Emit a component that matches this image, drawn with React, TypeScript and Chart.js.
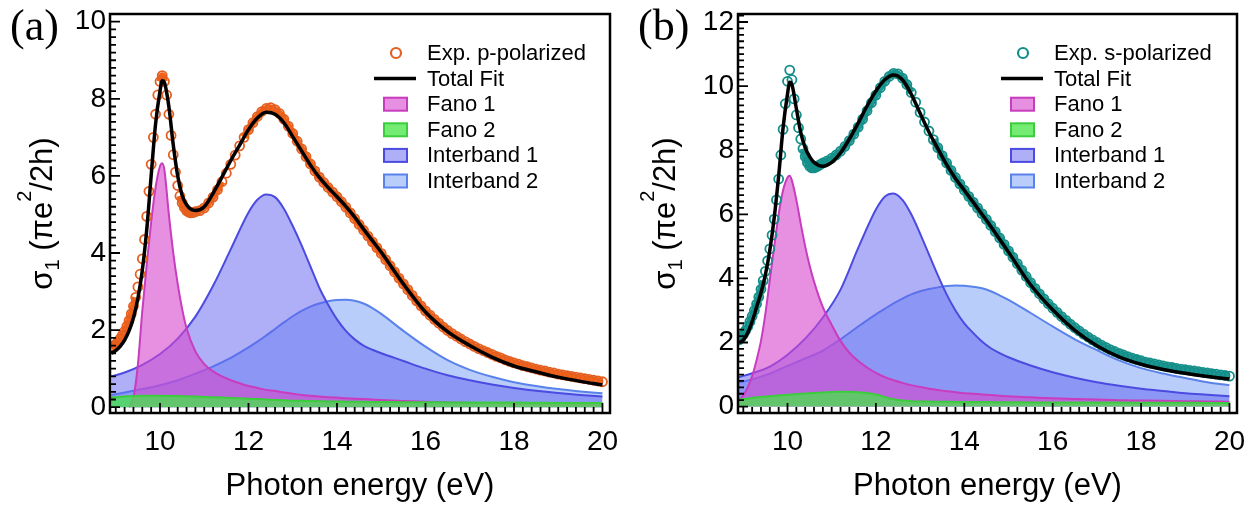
import React, { useEffect, useRef } from "react";
import { Chart, registerables } from "chart.js";
Chart.register(...registerables);

const SANS = "'Liberation Sans', Arial, Helvetica, sans-serif";
const SERIF = "'Liberation Serif', 'Times New Roman', serif";

// ---------- tick labels ----------
const xTickValues = [10, 12, 14, 16, 18, 20];
const yTickValuesA = [0, 2, 4, 6, 8, 10];
const yTickValuesB = [0, 2, 4, 6, 8, 10, 12];

// ---------- legend labels ----------
const legendLabelsA = ["Exp. p-polarized", "Total Fit", "Fano 1", "Fano 2", "Interband 1", "Interband 2"];
const legendLabelsB = ["Exp. s-polarized", "Total Fit", "Fano 1", "Fano 2", "Interband 1", "Interband 2"];

// ---------- experimental photon energies (eV) ----------
const expEnergy = [
  8.9, 8.95, 9.0, 9.05, 9.1, 9.15, 9.2, 9.25, 9.3, 9.35,
  9.4, 9.45, 9.5, 9.55, 9.6, 9.65, 9.7, 9.75, 9.8, 9.85,
  9.9, 9.95, 10.0, 10.05, 10.1, 10.15, 10.2, 10.25, 10.3, 10.35,
  10.4, 10.45, 10.5, 10.55, 10.6, 10.65, 10.7, 10.75, 10.8,
  10.9, 11.0, 11.1, 11.2, 11.3, 11.4, 11.5, 11.6, 11.7, 11.8,
  11.9, 12.0, 12.1, 12.2, 12.3, 12.4, 12.5, 12.6, 12.7, 12.8,
  12.9, 13.0, 13.1, 13.2, 13.3, 13.4, 13.5, 13.6, 13.7, 13.8,
  13.9, 14.0, 14.1, 14.2, 14.3, 14.4, 14.5, 14.6, 14.7, 14.8,
  14.9, 15.0, 15.1, 15.2, 15.3, 15.4, 15.5, 15.6, 15.7, 15.8,
  15.9, 16.0, 16.1, 16.2, 16.3, 16.4, 16.5, 16.6, 16.7, 16.8,
  16.9, 17.0, 17.1, 17.2, 17.3, 17.4, 17.5, 17.6, 17.7, 17.8,
  17.9, 18.0, 18.1, 18.2, 18.3, 18.4, 18.5, 18.6, 18.7, 18.8,
  18.9, 19.0, 19.1, 19.2, 19.3, 19.4, 19.5, 19.6, 19.7, 19.8,
  19.9, 20.0,
];

// (a) Exp. p-polarized
const expP = [
  1.52, 1.57, 1.63, 1.70, 1.78, 1.87, 1.97, 2.10, 2.25, 2.42,
  2.62, 2.85, 3.12, 3.45, 3.85, 4.35, 4.95, 5.6, 6.3, 7.0,
  7.6, 8.1, 8.45, 8.6, 8.45, 8.1, 7.6, 7.05, 6.55, 6.1,
  5.75, 5.48, 5.3, 5.18, 5.1, 5.06, 5.04, 5.05, 5.07,
  5.1, 5.17, 5.3, 5.45, 5.64, 5.85, 6.07, 6.3, 6.54, 6.78,
  7.0, 7.2, 7.38, 7.54, 7.67, 7.75, 7.77, 7.72, 7.62, 7.47,
  7.29, 7.1, 6.9, 6.7, 6.5, 6.31, 6.13, 5.97, 5.83, 5.7,
  5.58, 5.46, 5.33, 5.19, 5.04, 4.89, 4.74, 4.59, 4.44, 4.29,
  4.14, 3.99, 3.83, 3.67, 3.51, 3.35, 3.2, 3.05, 2.9, 2.76,
  2.63, 2.5, 2.39, 2.28, 2.18, 2.08, 1.99, 1.91, 1.84, 1.77,
  1.7, 1.64, 1.58, 1.52, 1.47, 1.42, 1.37, 1.32, 1.28, 1.23,
  1.19, 1.15, 1.12, 1.08, 1.05, 1.02, 0.99, 0.96, 0.94, 0.91,
  0.89, 0.86, 0.84, 0.82, 0.8, 0.78, 0.76, 0.74, 0.72, 0.7,
  0.68, 0.66,
];

// (b) Exp. s-polarized
const expS = [
  2.08, 2.15, 2.25, 2.37, 2.5, 2.65, 2.82, 3.0, 3.2, 3.42,
  3.66, 3.93, 4.22, 4.55, 4.92, 5.35, 5.85, 6.45, 7.1, 7.85,
  8.65, 9.45, 10.15, 10.5, 10.2, 9.6, 9.1, 8.7, 8.35, 8.05,
  7.8, 7.62, 7.5, 7.45, 7.45, 7.48, 7.52, 7.56, 7.6,
  7.67, 7.75, 7.85, 7.97, 8.12, 8.3, 8.5, 8.72, 8.97, 9.23,
  9.48, 9.72, 9.95, 10.15, 10.3, 10.4, 10.38, 10.25, 10.05, 9.8,
  9.5, 9.18, 8.88, 8.6, 8.33, 8.08, 7.83, 7.6, 7.37, 7.15,
  6.95, 6.75, 6.56, 6.38, 6.2, 6.02, 5.84, 5.65, 5.46, 5.26,
  5.06, 4.86, 4.66, 4.46, 4.26, 4.06, 3.87, 3.69, 3.52, 3.36,
  3.21, 3.07, 2.94, 2.81, 2.69, 2.57, 2.46, 2.36, 2.26, 2.17,
  2.08, 2.0, 1.92, 1.85, 1.78, 1.72, 1.66, 1.61, 1.56, 1.51,
  1.47, 1.43, 1.39, 1.36, 1.33, 1.3, 1.27, 1.24, 1.22, 1.19,
  1.17, 1.15, 1.13, 1.11, 1.09, 1.07, 1.05, 1.03, 1.01, 0.99,
  0.97, 0.95,
];

// ---------- fit energies (total fit and Fano 1) ----------
const fitEnergy = [
  8.9, 9.0, 9.1, 9.2, 9.3, 9.4, 9.5, 9.6, 9.7, 9.8,
  9.9, 10.0, 10.05, 10.1, 10.2, 10.3, 10.4, 10.5, 10.6, 10.8,
  11.0, 11.2, 11.4, 11.6, 11.8, 12.0, 12.2, 12.4, 12.6, 12.8,
  13.0, 13.2, 13.4, 13.6, 13.8, 14.0, 14.2, 14.4, 14.6, 14.8,
  15.0, 15.5, 16.0, 16.5, 17.0, 17.5, 18.0, 18.5, 19.0, 19.5,
  20.0,
];

const totalFitA = [
  1.40, 1.47, 1.58, 1.74, 1.98, 2.32, 2.82, 3.55, 4.6, 6.0,
  7.35, 8.2, 8.47, 8.42, 7.8, 6.8, 6.0, 5.5, 5.25, 5.1,
  5.2, 5.55, 5.97, 6.4, 6.8, 7.2, 7.5, 7.65, 7.6, 7.38,
  7.02, 6.65, 6.28, 5.96, 5.7, 5.46, 5.21, 4.93, 4.62, 4.32,
  4.02, 3.2, 2.47, 1.96, 1.6, 1.3, 1.07, 0.92, 0.78, 0.67,
  0.58,
];

const fano1A = [
  null, null, null, null, 0.0, 0.25, 1.1, 2.5, 3.7, 4.8,
  5.7, 6.25, 6.33, 6.15, 5.0, 4.0, 3.2, 2.55, 2.05, 1.45,
  1.12, 0.93, 0.8, 0.7, 0.62, 0.55, 0.5, 0.45, 0.42, 0.38,
  0.35, 0.32, 0.3, 0.28, 0.26, 0.25, 0.23, 0.22, 0.21, 0.2,
  0.19, 0.16, 0.14, 0.12, 0.11, 0.1, 0.09, 0.08, 0.07, 0.07,
  0.06,
];

const totalFitB = [
  2.0, 2.08, 2.3, 2.65, 3.1, 3.55, 4.12, 4.88, 5.9, 7.2,
  8.7, 9.75, 10.12, 10.05, 9.3, 8.55, 8.08, 7.8, 7.62, 7.5,
  7.62, 7.92, 8.35, 8.85, 9.38, 9.85, 10.2, 10.35, 10.2, 9.75,
  9.15, 8.57, 8.05, 7.55, 7.12, 6.75, 6.38, 6.0, 5.62, 5.22,
  4.82, 3.8, 3.02, 2.38, 1.9, 1.55, 1.32, 1.16, 1.04, 0.94,
  0.86,
];

const fano1B = [
  0.2, 0.35, 0.6, 0.95, 1.45, 2.05, 2.9, 3.95, 5.0, 6.0,
  6.75, 7.15, 7.2, 7.05, 6.45, 5.7, 5.0, 4.4, 3.9, 3.1,
  2.55, 2.05, 1.68, 1.42, 1.22, 1.05, 0.92, 0.82, 0.74, 0.67,
  0.61, 0.56, 0.52, 0.48, 0.45, 0.42, 0.4, 0.38, 0.36, 0.34,
  0.32, 0.29, 0.26, 0.24, 0.22, 0.2, 0.19, 0.18, 0.17, 0.16,
  0.15,
];

// ---------- component energies (Fano 2, Interband 1, Interband 2) ----------
const compEnergy = [
  8.9, 9.2, 9.6, 10.0, 10.4, 10.8, 11.2, 11.6, 12.0, 12.2,
  12.4, 12.6, 12.8, 13.0, 13.2, 13.4, 13.6, 13.8, 14.0, 14.2,
  14.4, 14.6, 14.8, 15.0, 15.5, 16.0, 16.5, 17.0, 17.5, 18.0,
  18.5, 19.0, 19.5, 20.0,
];

const fano2A = [
  0.25, 0.28, 0.3, 0.3, 0.29, 0.28, 0.26, 0.24, 0.22, 0.21,
  0.2, 0.19, 0.18, 0.17, 0.165, 0.16, 0.155, 0.15, 0.15, 0.145,
  0.14, 0.14, 0.135, 0.135, 0.13, 0.13, 0.125, 0.12, 0.12, 0.12,
  0.115, 0.11, 0.11, 0.11,
];
const interband1A = [
  0.8, 0.9, 1.1, 1.38, 1.78, 2.35, 3.15, 4.1, 5.05, 5.38,
  5.52, 5.45, 5.15, 4.7, 4.2, 3.65, 3.1, 2.66, 2.28, 1.98,
  1.76, 1.6, 1.49, 1.4, 1.2, 1.0, 0.83, 0.7, 0.59, 0.5,
  0.43, 0.37, 0.32, 0.28,
];
const interband2A = [
  0.32, 0.38, 0.47, 0.57, 0.7, 0.87, 1.06, 1.28, 1.55, 1.7,
  1.86, 2.03, 2.2, 2.36, 2.5, 2.61, 2.69, 2.75, 2.78, 2.79,
  2.76, 2.69, 2.57, 2.42, 1.98, 1.57, 1.22, 0.97, 0.79, 0.65,
  0.55, 0.47, 0.41, 0.36,
];

const fano2B = [
  0.22, 0.27, 0.32, 0.37, 0.41, 0.44, 0.46, 0.45, 0.38, 0.3,
  0.23, 0.19, 0.17, 0.16, 0.155, 0.15, 0.15, 0.145, 0.145, 0.14,
  0.14, 0.14, 0.135, 0.135, 0.13, 0.13, 0.13, 0.125, 0.125, 0.12,
  0.12, 0.12, 0.115, 0.115,
];
const interband1B = [
  0.92, 1.04, 1.25, 1.62, 2.12, 2.78, 3.65, 4.95, 6.15, 6.55,
  6.65, 6.45, 6.0, 5.4, 4.75, 4.1, 3.5, 3.0, 2.6, 2.3,
  2.03, 1.82, 1.67, 1.54, 1.28, 1.07, 0.9, 0.76, 0.65, 0.56,
  0.49, 0.42, 0.37, 0.32,
];
const interband2B = [
  0.75, 0.85, 1.03, 1.27, 1.5, 1.75, 2.1, 2.5, 2.88, 3.05,
  3.22, 3.37, 3.5, 3.6, 3.67, 3.72, 3.76, 3.78, 3.77, 3.74,
  3.69, 3.6, 3.47, 3.33, 2.92, 2.5, 2.1, 1.76, 1.44, 1.2,
  1.03, 0.89, 0.76, 0.67,
];

// ---------- styles ----------
const COLORS = {
  fano1: { line: "rgb(200,60,190)", fill: "rgba(215,70,205,0.6)" },
  fano2: { line: "rgb(60,205,60)", fill: "rgba(70,230,70,0.75)" },
  ib1: { line: "rgb(75,75,225)", fill: "rgba(95,95,240,0.5)" },
  ib2: { line: "rgb(90,130,235)", fill: "rgba(100,145,245,0.45)" },
};

type Pt = { x: number; y: number };
const pts = (xs: number[], ys: (number | null)[]): Pt[] =>
  xs.map((x, i) => ({ x, y: ys[i] as number })).filter((p) => p.y !== null && p.y !== undefined);

type PanelCfg = {
  tag: string;
  left: number;
  xMin: number;
  xMax: number;
  yMin: number;
  yMax: number;
  yTicks: number[];
  yAxisWidth: number;
  padRight: number;
  titleOffset: number;
  labelX: number;
  expColor: string;
  expBand: string;
  legend: string[];
  exp: number[];
  total: number[];
  fano1: (number | null)[];
  fano2: number[];
  ib1: number[];
  ib2: number[];
};

function Panel({ cfg }: { cfg: PanelCfg }) {
  const ref = useRef<HTMLCanvasElement>(null);
  useEffect(() => {
    const canvas = ref.current!;
    const comp = (label: string, xs: number[], ys: (number | null)[], c: { line: string; fill: string }, order: number) => ({
      label,
      data: pts(xs, ys),
      showLine: true,
      borderColor: c.line,
      backgroundColor: c.fill,
      borderWidth: 2,
      pointRadius: 0,
      fill: "origin",
      cubicInterpolationMode: "monotone",
      order,
    });
    const datasets: any[] = [
      {
        label: cfg.legend[0],
        data: pts(expEnergy, cfg.exp),
        showLine: true,
        borderWidth: 7,
        borderColor: cfg.expBand,
        cubicInterpolationMode: "monotone",
        segment: {
          borderColor: (c: any) => {
            const d = Math.hypot(c.p1.x - c.p0.x, c.p1.y - c.p0.y);
            return d < 9.5 ? cfg.expBand : "rgba(0,0,0,0)";
          },
        },
        fill: false,
        pointStyle: "circle",
        pointRadius: 4.5,
        pointBorderWidth: 1.8,
        pointBorderColor: cfg.expColor,
        pointBackgroundColor: "rgba(255,255,255,0)",
        backgroundColor: "rgba(255,255,255,0)",
        order: 1,
      },
      {
        label: cfg.legend[1],
        data: pts(fitEnergy, cfg.total),
        showLine: true,
        borderColor: "#000",
        borderWidth: 3.5,
        pointRadius: 0,
        fill: false,
        cubicInterpolationMode: "monotone",
        order: 0,
      },
      comp(cfg.legend[2], fitEnergy, cfg.fano1, COLORS.fano1, 3),
      comp(cfg.legend[3], compEnergy, cfg.fano2, COLORS.fano2, 2),
      comp(cfg.legend[4], compEnergy, cfg.ib1, COLORS.ib1, 4),
      comp(cfg.legend[5], compEnergy, cfg.ib2, COLORS.ib2, 5),
    ];

    const decor = {
      id: "decor" + cfg.tag,
      afterDatasetsDraw(chart: any) {
        const ctx: CanvasRenderingContext2D = chart.ctx;
        const { left, right, top, bottom } = chart.chartArea;
        const xs = chart.scales.x;
        const ys = chart.scales.y;
        ctx.save();
        // inward ticks
        ctx.strokeStyle = "#000";
        ctx.lineWidth = 1.8;
        ctx.beginPath();
        for (let k = Math.ceil(cfg.xMin * 5); k <= Math.floor(cfg.xMax * 5); k++) {
          const px = xs.getPixelForValue(k / 5);
          const len = k % 10 === 0 ? 10 : 6;
          ctx.moveTo(px, bottom);
          ctx.lineTo(px, bottom - len);
        }
        for (let k = Math.ceil(cfg.yMin * 5); k <= Math.floor(cfg.yMax * 5); k++) {
          const py = ys.getPixelForValue(k / 5);
          const len = k % 10 === 0 ? 10 : 6;
          ctx.moveTo(left, py);
          ctx.lineTo(left + len, py);
        }
        ctx.stroke();
        // frame
        ctx.lineWidth = 2.5;
        ctx.strokeRect(left, top, right - left, bottom - top);

        // legend
        const tx = right - 183;
        ctx.font = `22px ${SANS}`;
        ctx.textBaseline = "middle";
        ctx.textAlign = "left";
        for (let i = 0; i < cfg.legend.length; i++) {
          const y = top + 39 + i * 25.6;
          if (i === 0) {
            ctx.beginPath();
            ctx.arc(tx - 31, y, 5, 0, Math.PI * 2);
            ctx.lineWidth = 2.2;
            ctx.strokeStyle = cfg.expColor;
            ctx.stroke();
          } else if (i === 1) {
            ctx.beginPath();
            ctx.moveTo(tx - 53, y);
            ctx.lineTo(tx - 11, y);
            ctx.lineWidth = 3.5;
            ctx.strokeStyle = "#000";
            ctx.stroke();
          } else {
            const c = [COLORS.fano1, COLORS.fano2, COLORS.ib1, COLORS.ib2][i - 2];
            ctx.fillStyle = c.fill;
            ctx.fillRect(tx - 43, y - 6.5, 23, 13);
            ctx.lineWidth = 2;
            ctx.strokeStyle = c.line;
            ctx.strokeRect(tx - 43, y - 6.5, 23, 13);
          }
          ctx.fillStyle = "#000";
          ctx.fillText(cfg.legend[i], tx, y + 1);
        }

        // x title
        ctx.textBaseline = "alphabetic";
        ctx.textAlign = "center";
        ctx.font = `31px ${SANS}`;
        ctx.fillText("Photon energy (eV)", (left + right) / 2, 495);

        // y title with sub/superscripts
        const segs = [
          { t: "σ", s: 31, dy: 0 },
          { t: "1", s: 20, dy: 7 },
          { t: " (πe", s: 31, dy: 0 },
          { t: "2", s: 20, dy: -21 },
          { t: "/2h)", s: 31, dy: 0 },
        ];
        let total = 0;
        const widths = segs.map((sg) => {
          ctx.font = `${sg.s}px ${SANS}`;
          const w = ctx.measureText(sg.t).width;
          total += w;
          return w;
        });
        ctx.translate(left - cfg.titleOffset, (top + bottom) / 2);
        ctx.rotate(-Math.PI / 2);
        ctx.textAlign = "left";
        let cx = -total / 2;
        segs.forEach((sg, i) => {
          ctx.font = `${sg.s}px ${SANS}`;
          ctx.fillText(sg.t, cx, sg.dy);
          cx += widths[i];
        });
        ctx.restore();

        // panel tag
        ctx.save();
        ctx.fillStyle = "#000";
        ctx.font = `44px ${SERIF}`;
        ctx.textBaseline = "alphabetic";
        ctx.textAlign = "left";
        ctx.fillText(cfg.tag, cfg.labelX, 40);
        ctx.restore();
      },
    };

    const chart = new Chart(canvas, {
      type: "scatter",
      data: { datasets },
      options: {
        responsive: false,
        animation: false,
        events: [],
        devicePixelRatio: 1,
        layout: { padding: { left: 0, right: cfg.padRight, top: 14, bottom: 0 } },
        plugins: { legend: { display: false }, tooltip: { enabled: false } },
        scales: {
          x: {
            type: "linear",
            min: cfg.xMin,
            max: cfg.xMax,
            afterBuildTicks: (s: any) => {
              s.ticks = xTickValues.map((v) => ({ value: v }));
            },
            afterFit: (s: any) => {
              s.height = 92;
              s.paddingLeft = 0;
              s.paddingRight = 0;
            },
            grid: { display: false, drawTicks: false },
            border: { display: false },
            ticks: {
              font: { family: SANS, size: 28, lineHeight: 1 },
              color: "#000",
              padding: 15,
              autoSkip: false,
              maxRotation: 0,
            },
          },
          y: {
            type: "linear",
            min: cfg.yMin,
            max: cfg.yMax,
            afterBuildTicks: (s: any) => {
              s.ticks = cfg.yTicks.map((v) => ({ value: v }));
            },
            afterFit: (s: any) => {
              s.width = cfg.yAxisWidth;
              s.paddingTop = 0;
              s.paddingBottom = 0;
            },
            grid: { display: false, drawTicks: false },
            border: { display: false },
            ticks: {
              font: { family: SANS, size: 28, lineHeight: 1 },
              color: "#000",
              padding: 4,
              autoSkip: false,
            },
          },
        },
      } as any,
      plugins: [decor],
    });
    return () => chart.destroy();
  }, [cfg]);
  return (
    <canvas
      ref={ref}
      width={629}
      height={505}
      style={{ position: "absolute", left: cfg.left, top: 0, width: 629, height: 505 }}
    />
  );
}

const panelA: PanelCfg = {
  tag: "(a)",
  left: 0,
  xMin: 8.87,
  xMax: 20.17,
  yMin: -0.15,
  yMax: 10.2,
  yTicks: yTickValuesA,
  yAxisWidth: 110,
  padRight: 19,
  titleOffset: 58,
  labelX: 10,
  expColor: "rgb(228,95,32)",
  expBand: "rgb(243,98,22)",
  legend: legendLabelsA,
  exp: expP,
  total: totalFitA,
  fano1: fano1A,
  fano2: fano2A,
  ib1: interband1A,
  ib2: interband2A,
};

const panelB: PanelCfg = {
  tag: "(b)",
  left: 629,
  xMin: 8.88,
  xMax: 20.17,
  yMin: -0.2,
  yMax: 12.25,
  yTicks: yTickValuesB,
  yAxisWidth: 109,
  padRight: 21,
  titleOffset: 63,
  labelX: 9,
  expColor: "rgb(20,142,137)",
  expBand: "rgb(28,150,145)",
  legend: legendLabelsB,
  exp: expS,
  total: totalFitB,
  fano1: fano1B,
  fano2: fano2B,
  ib1: interband1B,
  ib2: interband2B,
};

export default function App() {
  return (
    <div
      style={{
        position: "fixed",
        left: 0,
        top: 0,
        width: 1258,
        height: 505,
        background: "#fff",
        overflow: "hidden",
      }}
    >
      <Panel cfg={panelA} />
      <Panel cfg={panelB} />
    </div>
  );
}
